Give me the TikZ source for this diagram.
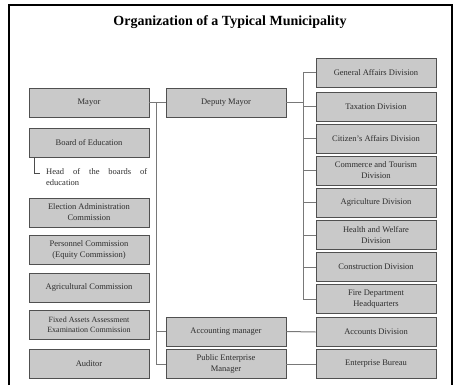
\documentclass[tikz,border=0pt]{standalone}
\usepackage{fontspec}
\setmainfont{Liberation Serif}
\usetikzlibrary{shadows}
\definecolor{boxfill}{RGB}{201,201,201}
\definecolor{boxline}{RGB}{80,80,80}
\definecolor{linkgray}{RGB}{120,120,120}
\definecolor{textgray}{RGB}{45,45,45}
\begin{document}
\begin{tikzpicture}[x=1pt,y=-1pt,
  unit/.style={rectangle, draw=boxline, fill=boxfill, line width=0.9pt,
    minimum width=120pt, minimum height=29pt, inner sep=1pt,
    align=center, text=textgray, font=\fontsize{8.5}{11}\selectfont,
    drop shadow={shadow xshift=0.7pt, shadow yshift=-0.8pt, fill=black!80, opacity=1}},
  conn/.style={draw=linkgray, line width=1pt},
  frameline/.style={draw=black, line width=1.4pt}]
\useasboundingbox (0,0) rectangle (454,385);
\fill[white] (0,0) rectangle (454,385);
\draw[frameline] (9,385) -- (9,5) -- (452,5) -- (452,385);

\node[font=\fontsize{14}{16}\selectfont\bfseries] (title) at (230,22) {Organization of a Typical Municipality};

% left column
\node[unit] (mayor)  at (89,102.5) {Mayor};
\node[unit] (board)  at (89,143)   {Board of Education};
\node[unit] (elect)  at (89,212.5) {Election Administration\\Commission};
\node[unit] (pers)   at (89,249.5) {Personnel Commission\\(Equity Commission)};
\node[unit] (agcom)  at (89,287.5) {Agricultural Commission};
\node[unit, font=\fontsize{8}{10}\selectfont] (fixed) at (89,325) {Fixed Assets Assessment\\Examination Commission};
\node[unit] (audit)  at (89,363.5) {Auditor};

% head of the boards of education
\node[anchor=west, align=left, inner sep=0pt, text=textgray,
  font=\fontsize{8.5}{11}\selectfont] (head) at (46,177.5)
  {\makebox[101pt][s]{Head of the boards of}\\education};
\draw[draw=black!70, line width=0.9pt] (34,157) -- (34,173) -- (40,173);

% middle column
\node[unit] (deputy) at (226,102.5) {Deputy Mayor};
\node[unit] (accm)   at (226,331.5) {Accounting manager};
\node[unit] (pem)    at (226,364)   {Public Enterprise\\Manager};

% right column
\node[unit] (ga)   at (376,73)    {General Affairs Division};
\node[unit] (tax)  at (376,106.5) {Taxation Division};
\node[unit] (cit)  at (376,138.5) {Citizen’s Affairs Division};
\node[unit] (com)  at (376,170.5) {Commerce and Tourism\\Division};
\node[unit] (agr)  at (376,202.5) {Agriculture Division};
\node[unit] (hea)  at (376,235)   {Health and Welfare\\Division};
\node[unit] (con)  at (376,267)   {Construction Division};
\node[unit] (fire) at (376,299)   {Fire Department\\Headquarters};
\node[unit] (accd) at (376,332)   {Accounts Division};
\node[unit] (ent)  at (376,364)   {Enterprise Bureau};

% connectors
\coordinate (lbus) at (156,102.5);
\coordinate (rbus) at (303,102.5);
\draw[conn] (mayor.east) -- (deputy.west);
\draw[conn] (lbus) |- (pem.west);
\draw[conn] (lbus |- accm.west) -- (accm.west);
\draw[conn] (deputy.east) -- (rbus);
\draw[conn] (rbus |- ga.west) -- (rbus |- fire.west);
\foreach \b in {ga,tax,cit,com,agr,hea,con,fire}
  \draw[conn] (rbus |- \b.west) -- (\b.west);
\draw[conn] (accm.east) -- (accd.west);
\draw[conn] (pem.east) -- (ent.west);
\end{tikzpicture}
\end{document}
